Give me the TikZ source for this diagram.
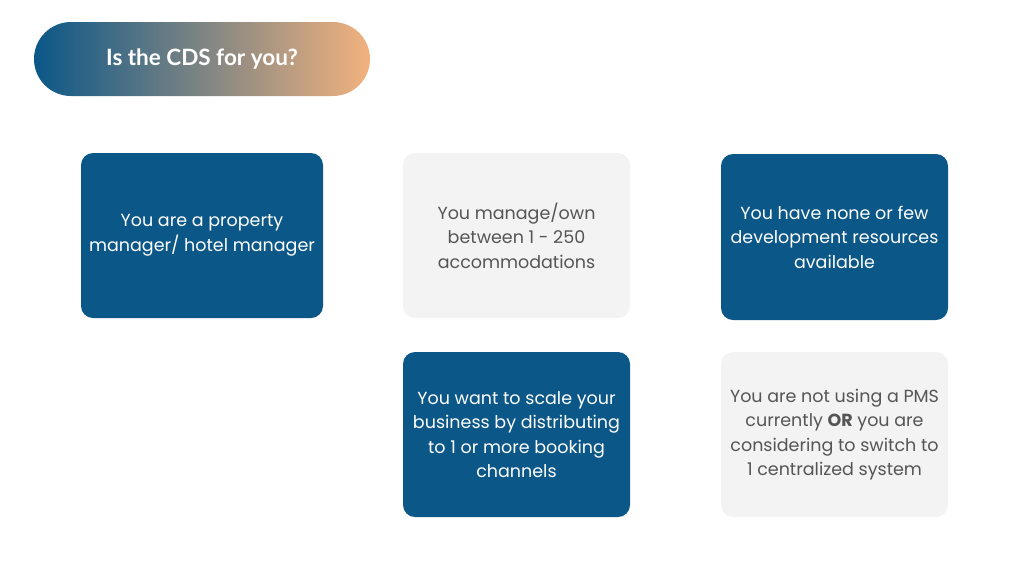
\documentclass[tikz,border=0pt]{standalone}
\usepackage{fontspec}
\setmainfont{Poppins}
\newfontfamily\titlefont{Lato}
\definecolor{cdsblue}{HTML}{0B5788}
\definecolor{cdspeach}{HTML}{F2B27E}
\definecolor{cdsgray}{HTML}{F3F3F3}
\definecolor{cdstext}{HTML}{555555}
\begin{document}
\begin{tikzpicture}[x=1pt,y=-1pt,
  card/.style={rounded corners=12pt,minimum width=227pt,minimum height=165pt,
    align=center,inner sep=2pt,font=\fontsize{17.5}{24.5}\selectfont},
  bluecard/.style={card,fill=cdsblue,text=white},
  graycard/.style={card,fill=cdsgray,text=cdstext}]
 \useasboundingbox[fill=white] (0,0) rectangle (1024,576);
 % title pill
 \node[rounded corners=37pt,minimum width=336pt,minimum height=74pt,
   left color=cdsblue,right color=cdspeach,text=white,
   font=\titlefont\bfseries\fontsize{22.5}{26}\selectfont] (title) at (202,59) {Is the CDS for you?};
 % first row
 \node[bluecard,minimum width=242pt] (manager) at (202,235.5) {You are a property\\manager/ hotel manager};
 \node[graycard] (units) at (516.5,235.5) {You manage/own\\between 1 - 250\\accommodations};
 \node[bluecard,minimum height=166pt] (devres) at (834.5,237) {You have none or few\\development resources\\available};
 % second row
 \node[bluecard] (scale) at (516.5,434.5) {You want to scale your\\business by distributing\\to 1 or more booking\\channels};
 \node[graycard] (pms) at (834.5,434.5) {You are not using a PMS\\currently \textbf{OR} you are\\considering to switch to\\1 centralized system};
\end{tikzpicture}
\end{document}
